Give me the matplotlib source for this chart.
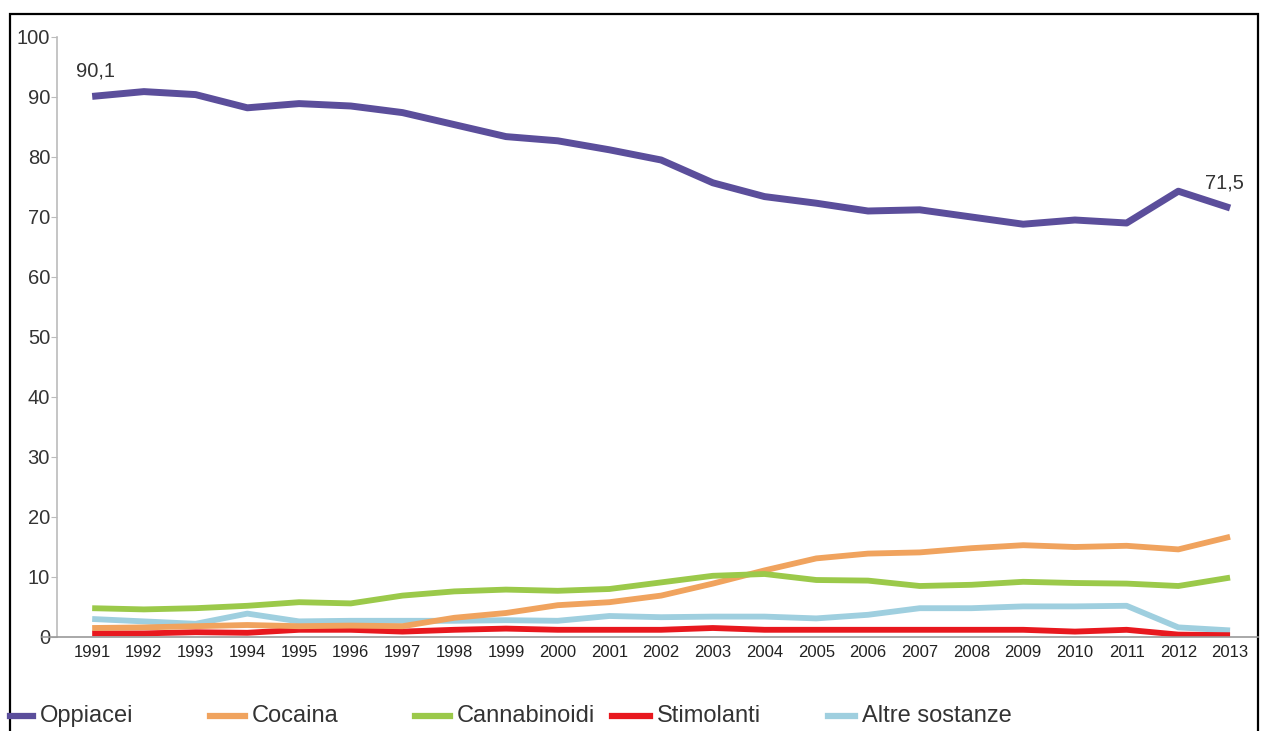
import matplotlib.pyplot as plt
from matplotlib.lines import Line2D
from matplotlib.patches import Rectangle

anni = list(range(1991, 2014))

oppiacei = [90.1, 90.9, 90.4, 88.2, 88.9, 88.5, 87.4, 85.4, 83.4, 82.7, 81.2, 79.5,
            75.7, 73.4, 72.3, 71.0, 71.2, 70.0, 68.8, 69.5, 69.0, 74.3, 71.5]
cocaina = [1.5, 1.6, 1.8, 2.0, 1.8, 1.9, 1.8, 3.2, 4.0, 5.3, 5.8, 6.9,
           8.9, 11.1, 13.1, 13.9, 14.1, 14.8, 15.3, 15.0, 15.2, 14.6, 16.7]
cannabinoidi = [4.8, 4.6, 4.8, 5.2, 5.8, 5.6, 6.9, 7.6, 7.9, 7.7, 8.0, 9.1,
                10.2, 10.5, 9.5, 9.4, 8.5, 8.7, 9.2, 9.0, 8.9, 8.5, 9.9]
stimolanti = [0.6, 0.6, 0.8, 0.7, 1.2, 1.2, 0.9, 1.2, 1.4, 1.2, 1.2, 1.2,
              1.5, 1.2, 1.2, 1.2, 1.2, 1.2, 1.2, 0.9, 1.2, 0.4, 0.3]
altre = [3.0, 2.6, 2.2, 3.9, 2.6, 2.7, 2.7, 2.7, 2.8, 2.7, 3.5, 3.3,
         3.4, 3.4, 3.1, 3.7, 4.8, 4.8, 5.1, 5.1, 5.2, 1.6, 1.1]

nomi = ['Oppiacei', 'Cocaina', 'Cannabinoidi', 'Stimolanti', 'Altre sostanze']
colori = ['#5b4e9b', '#f0a35e', '#9bc94a', '#e8181e', '#9fcfdf']
spessori = [5.0, 4.2, 4.2, 4.2, 4.2]
serie = [oppiacei, cocaina, cannabinoidi, stimolanti, altre]

W, H = 1263, 731
fig = plt.figure(figsize=(W / 100, H / 100), dpi=100)
fig.patch.set_facecolor('white')

# area del grafico in pixel: asse y a x=57, zero a y=637, 100 a y=37
ax = fig.add_axes([57 / W, (H - 637) / H, (1258 - 57) / W, 600 / H])
ax.set_xlim(1990.32, 2013.54)
ax.set_ylim(0, 100)

# prima le serie piccole, oppiacei sopra
ordine = [4, 3, 1, 2, 0]
for i in ordine:
    ax.plot(anni, serie[i], color=colori[i], lw=spessori[i],
            solid_capstyle='butt', solid_joinstyle='round', zorder=3)

ax.annotate('90,1', (anni[0], oppiacei[0]), xytext=(-12, 14), textcoords='offset points',
            fontsize=14.5, color='#333333', family='Liberation Sans')
ax.annotate('71,5', (anni[-1], oppiacei[-1]), xytext=(-18, 14), textcoords='offset points',
            fontsize=14.5, color='#333333', family='Liberation Sans')

for s in ['top', 'right', 'bottom']:
    ax.spines[s].set_visible(False)
ax.spines['left'].set_color('#bbbbbb')
ax.spines['left'].set_linewidth(1.2)

ax.set_yticks(range(0, 101, 10))
ax.set_xticks(anni)
ax.tick_params(axis='y', length=4, color='#bbbbbb', labelsize=14.5, labelcolor='#333333', pad=1)
ax.tick_params(axis='x', length=0, labelsize=12, labelcolor='#222222', pad=6)
for lab in ax.get_yticklabels():
    lab.set_family('Liberation Sans')
for lab in ax.get_xticklabels():
    lab.set_family(['Liberation Sans Narrow', 'Liberation Sans'])

# linea dell'asse x che sporge a sinistra dell'asse y
fig.add_artist(Line2D([42 / W, 1258 / W], [(H - 637) / H] * 2, color='#999999', lw=1.2))

# cornice nera
fig.add_artist(Rectangle((10 / W, -0.1), (1258 - 10) / W, (H - 14) / H + 0.1,
                         fill=False, edgecolor='black', lw=1.6, transform=fig.transFigure))

# legenda in basso
leg_x = [10, 210, 415, 612, 828]
leg_len = [23, 35, 35, 38, 27]
y_leg = (H - 716) / H
for i in range(5):
    fig.add_artist(Line2D([leg_x[i] / W, (leg_x[i] + leg_len[i]) / W], [y_leg, y_leg],
                          color=colori[i], lw=4.5))
    fig.text((leg_x[i] + leg_len[i] + 7) / W, y_leg, nomi[i], fontsize=17,
             color='#333333', va='center', ha='left',
             family=['Liberation Sans Narrow', 'Liberation Sans'])

fig.savefig('out.png', dpi=100)
